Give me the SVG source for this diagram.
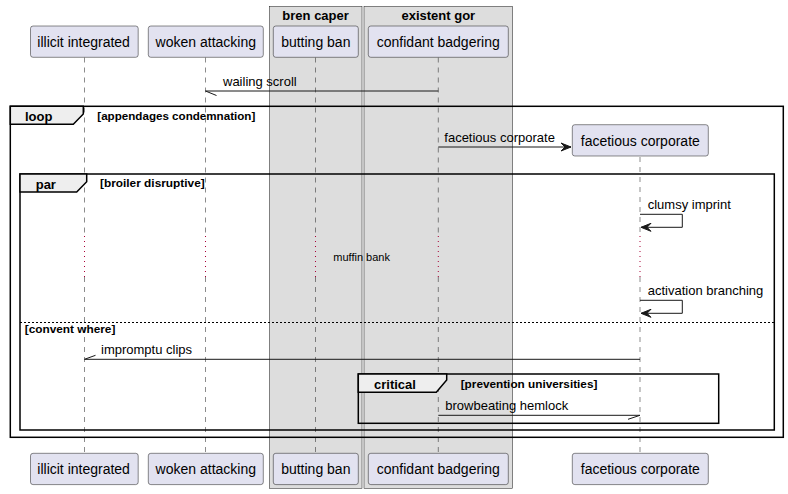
<svg xmlns="http://www.w3.org/2000/svg" width="788" height="494" viewBox="0 0 788 494">
<style>
text{font-family:"Liberation Sans",Arial,sans-serif;fill:#000}
.pl{font-size:14px}
.msg{font-size:13px}
.bt{font-size:13px;font-weight:bold}
.cond{font-size:11.5px;font-weight:bold}
.box{fill:#E2E2F0;stroke:#181818;stroke-width:0.5}
.grp{fill:#DDDDDD;stroke:#181818;stroke-width:0.5}
.life{stroke:#181818;stroke-width:0.5;stroke-dasharray:5 5;fill:none}
.delay{stroke:#A80036;stroke-width:1;stroke-dasharray:1 4;fill:none}
.frame{fill:none;stroke:#000;stroke-width:1.5}
.tab{fill:#EEEEEE;stroke:#000;stroke-width:1.5}
.ln{stroke:#181818;stroke-width:1;fill:none}
.head{fill:#181818;stroke:#181818;stroke-width:1}
</style>
<g id="boxes">
<rect class="grp" x="269.3" y="6.3" width="92.7" height="482"/>
<text class="bt" x="315.6" y="19.5" text-anchor="middle">bren caper</text>
<rect class="grp" x="364" y="6.3" width="148.7" height="482"/>
<text class="bt" x="438.3" y="19.5" text-anchor="middle">existent gor</text>
</g>
<g id="lifelines">
<path class="life" d="M84.5,57.5V233.5M84.5,277V453.3"/>
<path class="delay" d="M84.5,236V278"/>
<path class="life" d="M205.5,57.5V233.5M205.5,277V453.3"/>
<path class="delay" d="M205.5,236V278"/>
<path class="life" d="M315.5,57.5V233.5M315.5,277V453.3"/>
<path class="delay" d="M315.5,236V278"/>
<path class="life" d="M438.3,57.5V233.5M438.3,277V453.3"/>
<path class="delay" d="M438.3,236V278"/>
<path class="life" d="M640,157V233.5M640,277V453.3"/>
<path class="delay" d="M640,236V278"/>
</g>
<g id="frames">
<rect class="frame" x="10.3" y="106.3" width="773" height="331"/>
<path class="tab" d="M10.3,106.3H83.3V114L73.3,124.3H10.3Z"/>
<text class="bt" x="25" y="121.3">loop</text>
<text class="cond" x="97.3" y="119.7" textLength="158" lengthAdjust="spacingAndGlyphs">[appendages condemnation]</text>
<rect class="frame" x="20" y="174" width="754.3" height="256"/>
<path class="tab" d="M20,174H86.7V181.7L76.7,192H20Z"/>
<text class="bt" x="35.7" y="189">par</text>
<text class="cond" x="100" y="187.3" textLength="104.7" lengthAdjust="spacingAndGlyphs">[broiler disruptive]</text>
<path d="M20,322.5H774.3" stroke="#000" stroke-width="1" stroke-dasharray="2 2" fill="none"/>
<text class="cond" x="24.7" y="333.3" textLength="90.7" lengthAdjust="spacingAndGlyphs">[convent where]</text>
<rect class="frame" x="358.3" y="374" width="360.4" height="49.3"/>
<path class="tab" d="M358.3,374H446.7V380L436.3,392.3H358.3Z"/>
<text class="bt" x="374" y="389">critical</text>
<text class="cond" x="460.7" y="387.5" textLength="136.7" lengthAdjust="spacingAndGlyphs">[prevention universities]</text>
</g>
<g id="connectors">
<path class="ln" d="M205.5,91H438.3M205.5,91L216.5,95.5"/>
<text class="msg" x="223" y="86">wailing scroll</text>
<path class="ln" d="M438.3,147H571"/>
<polygon class="head" points="561,143 571,147 561,151 565,147"/>
<text class="msg" x="444.3" y="142">facetious corporate</text>
<path class="ln" d="M640,214.3H682.3V227.3H641"/>
<polygon class="head" points="651,223.3 641,227.3 651,231.3 647,227.3"/>
<text class="msg" x="647.7" y="209.3">clumsy imprint</text>
<text x="333.3" y="261" style="font-size:11px">muffin bank</text>
<path class="ln" d="M640,300.3H682.3V313.3H641"/>
<polygon class="head" points="651,309.3 641,313.3 651,317.3 647,313.3"/>
<text class="msg" x="647.7" y="295.3">activation branching</text>
<path class="ln" d="M640,359.3H84.5M84.5,359.3L95.5,355.3"/>
<text class="msg" x="101" y="354.3">impromptu clips</text>
<path class="ln" d="M438.3,415.3H640M640,415.3L628,419.3"/>
<text class="msg" x="445.3" y="410.3">browbeating hemlock</text>
</g>
<g id="p-illicit-integrated">
<rect class="box" x="30.5" y="26" width="107.7" height="31.3" rx="2.5"/>
<text class="pl" x="37.3" y="47">illicit integrated</text>
<rect class="box" x="30.5" y="453.3" width="107.7" height="31.3" rx="2.5"/>
<text class="pl" x="37.3" y="474.3">illicit integrated</text>
</g>
<g id="p-woken-attacking">
<rect class="box" x="148.3" y="26" width="115" height="31.3" rx="2.5"/>
<text class="pl" x="205.8" y="47" text-anchor="middle">woken attacking</text>
<rect class="box" x="148.3" y="453.3" width="115" height="31.3" rx="2.5"/>
<text class="pl" x="205.8" y="474.3" text-anchor="middle">woken attacking</text>
</g>
<g id="p-butting-ban">
<rect class="box" x="273.3" y="26" width="85" height="31.3" rx="2.5"/>
<text class="pl" x="315.8" y="47" text-anchor="middle">butting ban</text>
<rect class="box" x="273.3" y="453.3" width="85" height="31.3" rx="2.5"/>
<text class="pl" x="315.8" y="474.3" text-anchor="middle">butting ban</text>
</g>
<g id="p-confidant-badgering">
<rect class="box" x="368.3" y="26" width="140" height="31.3" rx="2.5"/>
<text class="pl" x="438.3" y="47" text-anchor="middle">confidant badgering</text>
<rect class="box" x="368.3" y="453.3" width="140" height="31.3" rx="2.5"/>
<text class="pl" x="438.3" y="474.3" text-anchor="middle">confidant badgering</text>
</g>
<g id="p-facetious-corporate">
<rect class="box" x="572.3" y="124.7" width="136" height="31.3" rx="2.5"/>
<text class="pl" x="640.3" y="145.7" text-anchor="middle">facetious corporate</text>
<rect class="box" x="572.3" y="453.3" width="136" height="31.3" rx="2.5"/>
<text class="pl" x="640.3" y="474.3" text-anchor="middle">facetious corporate</text>
</g>
</svg>
